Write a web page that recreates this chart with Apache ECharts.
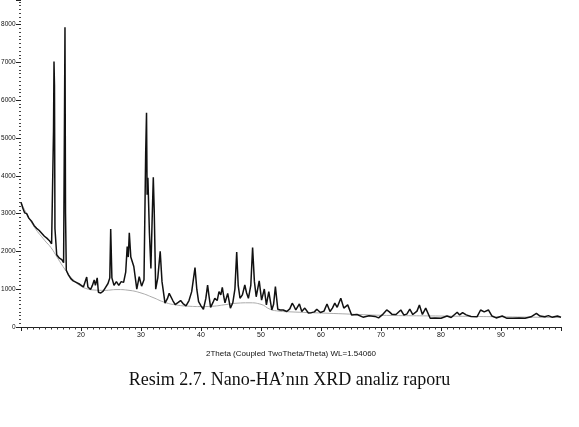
<!DOCTYPE html>
<html>
<head>
<meta charset="utf-8">
<title>XRD</title>
<script src="https://cdn.jsdelivr.net/npm/echarts@6/dist/echarts.min.js"></script>
<style>
    html, body { margin: 0; padding: 0; background: #fff; }
    #xrd_chart { width: 579px; height: 427px; }
</style>
</head>
<body>
<div id="xrd_chart"></div>
<script>
var twoTheta = [10.0, 10.3, 10.6, 10.95, 11.3, 11.8, 12.2, 12.6, 13.0, 13.45, 13.9, 14.3, 14.7, 15.1, 15.3,
    15.42, 15.5, 15.58, 15.66, 15.95, 16.4, 16.8, 17.1, 17.25, 17.33, 17.42, 17.55, 17.9, 18.3, 18.7,
    19.2, 19.8, 20.4, 20.7, 20.95, 21.15, 21.6, 21.9, 22.2, 22.4, 22.7, 22.9, 23.3, 23.7, 24.1,
    24.5, 24.8, 24.95, 25.15, 25.5, 25.9, 26.3, 26.7, 27.1, 27.45, 27.7, 27.88, 28.05, 28.3, 28.55,
    28.8, 29.0, 29.3, 29.7, 30.1, 30.5, 30.78, 30.92, 31.02, 31.15, 31.4, 31.65, 31.85, 32.05, 32.2,
    32.45, 32.8, 33.2, 33.5, 34.0, 34.4, 34.7, 35.0, 35.3, 35.7, 36.2, 36.6, 37.0, 37.5, 38.0,
    38.45, 39.0, 39.3, 39.6, 40.0, 40.4, 40.8, 41.1, 41.35, 41.6, 42.0, 42.3, 42.7, 43.0, 43.3,
    43.55, 43.8, 44.0, 44.45, 44.9, 45.3, 45.65, 45.95, 46.2, 46.5, 46.9, 47.3, 47.6, 47.9, 48.3,
    48.6, 48.9, 49.2, 49.7, 50.1, 50.55, 50.9, 51.3, 51.8, 52.1, 52.4, 52.8, 53.2, 53.7, 54.3,
    54.8, 55.2, 55.5, 55.8, 56.4, 56.8, 57.3, 57.9, 58.4, 58.9, 59.3, 59.9, 60.5, 61.0, 61.5,
    61.9, 62.3, 62.7, 63.3, 63.8, 64.45, 65.1, 66.0, 67.0, 68.0, 69.0, 69.6, 70.2, 70.95, 71.4,
    71.8, 72.5, 73.3, 73.8, 74.3, 74.8, 75.3, 76.0, 76.4, 76.9, 77.45, 78.2, 79.0, 80.0, 81.0,
    81.7, 82.7, 83.1, 83.6, 84.2, 85.0, 86.0, 86.6, 87.2, 87.9, 88.5, 89.2, 90.2, 91.0, 92.0,
    93.0, 94.0, 95.0, 95.9, 96.5, 97.3, 97.9, 98.5, 99.4, 100.0];
var counts = [3300, 3150, 3020, 3000, 2880, 2790, 2680, 2610, 2560, 2480, 2400, 2350, 2290, 2200, 2250,
    5200, 7020, 6400, 2600, 1910, 1820, 1780, 1700, 5600, 7930, 3000, 1500, 1380, 1280, 1220,
    1180, 1130, 1060, 1040, 1320, 1060, 990, 1100, 1245, 1100, 1300, 920, 900, 950, 1050,
    1150, 1300, 2590, 1300, 1100, 1200, 1100, 1200, 1180, 1450, 2130, 1850, 2490, 1850, 1900,
    1600, 1650, 1000, 1330, 1080, 1250, 4600, 5670, 3500, 3950, 2500, 1550, 2800, 3960, 3100,
    1000, 1300, 2000, 1200, 630, 750, 890, 880, 700, 590, 650, 700, 620, 560, 700,
    935, 1570, 1000, 670, 560, 470, 750, 1110, 800, 520, 650, 760, 700, 935, 850,
    1050, 800, 640, 890, 500, 640, 1000, 1980, 1100, 760, 850, 1110, 900, 760, 1100,
    2100, 1200, 800, 1220, 710, 1005, 585, 935, 450, 600, 1070, 470, 450, 450, 410,
    480, 630, 550, 450, 610, 410, 500, 370, 380, 400, 470, 385, 420, 610, 410,
    500, 630, 520, 760, 500, 585, 320, 330, 260, 300, 280, 240, 320, 450, 400,
    340, 330, 450, 320, 340, 470, 330, 420, 580, 330, 500, 230, 240, 230, 290,
    250, 390, 320, 380, 320, 280, 270, 450, 400, 450, 290, 240, 290, 230, 230,
    240, 230, 270, 360, 290, 270, 300, 260, 290, 260];

// fitted background (grey curve)
var bgTheta = [10, 12, 14, 15, 16, 17, 18, 19, 20, 21, 22, 24, 26, 28, 30, 32, 34, 36, 38, 40,
    42, 44, 46, 48, 50, 51.5, 53, 55, 60, 65, 70, 80, 90, 100];
var bgCounts = [3300, 2700, 2280, 2100, 1850, 1600, 1380, 1200, 1080, 1010, 980, 970, 990, 970, 900, 780, 650, 580, 550, 540,
    550, 590, 630, 640, 600, 470, 420, 400, 370, 340, 310, 290, 270, 250];

var xTickLabels = ['20', '30', '40', '50', '60', '70', '80', '90'];
var yTickLabels = ['0', '1000', '2000', '3000', '4000', '5000', '6000', '7000', '8000'];

function pairs(xs, ys) {
    var out = [];
    for (var i = 0; i < xs.length; i++) {
        out.push([xs[i], ys[i]]);
    }
    return out;
}

var xrdChart = echarts.init(document.getElementById('xrd_chart'));

var option = {
    animation: false,
    grid: {
        left: 21,
        right: 18,
        top: 0,
        bottom: 100,
        outerBoundsMode: 'none'
    },
    xAxis: {
        type: 'value',
        min: 10,
        max: 100,
        interval: 10,
        name: '2Theta (Coupled TwoTheta/Theta) WL=1.54060',
        nameLocation: 'middle',
        nameGap: 23,
        nameTextStyle: { fontFamily: 'Liberation Sans', fontSize: 8, color: '#111' },
        axisLine: { lineStyle: { color: '#222', width: 1 } },
        axisTick: { length: 4, lineStyle: { color: '#222' } },
        minorTick: { show: true, splitNumber: 10, length: 2.5, lineStyle: { color: '#333' } },
        splitLine: { show: false },
        axisLabel: {
            fontFamily: 'Liberation Sans',
            fontSize: 7,
            color: '#111',
            margin: 5,
            formatter: function (v) {
                var s = String(v);
                return xTickLabels.indexOf(s) >= 0 ? s : '';
            }
        }
    },
    yAxis: {
        type: 'value',
        min: 0,
        max: 8650,
        interval: 1000,
        axisLine: { show: false },
        axisTick: { show: true, length: 5, lineStyle: { color: '#222' } },
        minorTick: { show: true, splitNumber: 10, length: 2, lineStyle: { color: '#444' } },
        splitLine: { show: false },
        axisLabel: {
            fontFamily: 'Liberation Sans',
            fontSize: 6.5,
            color: '#111',
            margin: 5.5,
            showMaxLabel: false,
            formatter: function (v) {
                var s = String(v);
                return yTickLabels.indexOf(s) >= 0 ? s : '';
            }
        }
    },
    series: [{
        name: 'background',
        type: 'line',
        data: pairs(bgTheta, bgCounts),
        showSymbol: false,
        smooth: true,
        lineStyle: { color: '#aaa', width: 1 },
        z: 1
    }, {
        name: 'scan',
        type: 'line',
        data: pairs(twoTheta, counts),
        showSymbol: false,
        lineStyle: { color: '#111', width: 1.5 },
        z: 2
    }],
    graphic: [{
        type: 'text',
        left: 'center',
        top: 371,
        style: {
            text: 'Resim 2.7. Nano-HA’nın XRD analiz raporu',
            fontFamily: 'Liberation Serif',
            fontSize: 18,
            fill: '#111'
        }
    }]
};

xrdChart.setOption(option);
</script>
</body>
</html>
